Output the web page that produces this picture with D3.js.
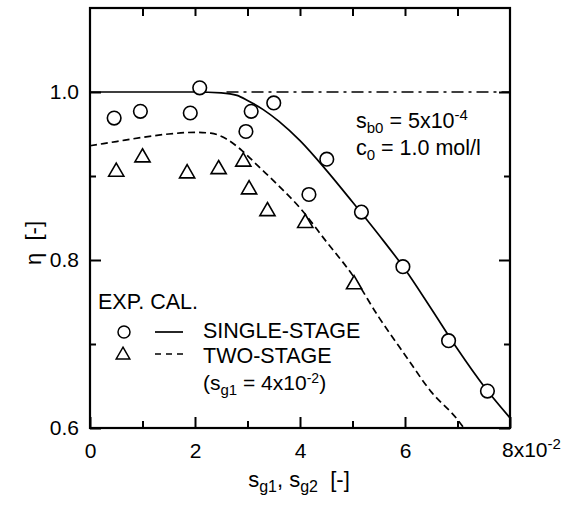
<!DOCTYPE html>
<html>
<head>
<meta charset="utf-8">
<script src="https://cdn.jsdelivr.net/npm/d3@7"></script>
<style>
body { margin: 0; background: #fff; }
text { font-family: "Liberation Sans", Arial, sans-serif; fill: #000; }
</style>
</head>
<body>
<svg id="chart" width="563" height="511"></svg>
<script>

var expSingleX = [0.46, 0.96, 1.91, 2.09, 2.97, 3.07, 3.50, 4.17, 4.51, 5.17, 5.96, 6.83, 7.57];
var expSingleY = [0.969, 0.977, 0.975, 1.005, 0.953, 0.977, 0.987, 0.878, 0.920, 0.857, 0.792, 0.704, 0.644];
var expTwoX = [0.50, 1.00, 1.85, 2.45, 2.92, 3.03, 3.38, 4.10, 5.03];
var expTwoY = [0.905, 0.922, 0.903, 0.908, 0.917, 0.884, 0.858, 0.844, 0.771];

// calculated curves
var calSingleX = [0, 1, 2, 2.5, 2.8, 3.0, 3.3, 3.6, 4.0, 4.5, 5.0, 5.5, 6.0, 6.5, 7.0, 7.5, 8.0];
var calSingleY = [1.0, 1.0, 1.0, 0.999, 0.996, 0.99, 0.979, 0.965, 0.942, 0.907, 0.869, 0.830, 0.789, 0.742, 0.694, 0.650, 0.612];
var calTwoX = [0, 0.5, 1, 1.5, 2, 2.3, 2.6, 2.9, 3.2, 3.6, 4.0, 4.5, 5.0, 5.5, 6.0, 6.5, 7.0, 7.12];
var calTwoY = [0.936, 0.941, 0.946, 0.950, 0.952, 0.951, 0.944, 0.930, 0.912, 0.888, 0.862, 0.822, 0.782, 0.732, 0.687, 0.643, 0.61, 0.6];

// eta = 1 reference line
var refX = [2.6, 8];
var refY = [1.0, 1.0];

// ticks
var xMajor = [0, 2, 4, 6, 8];
var xMinor = [1, 3, 5, 7];
var yMajor = [0.6, 0.8, 1.0];
var yMinor = [0.7, 0.9];

var margin = {top: 8, right: 53, bottom: 83, left: 90};
var width = 563 - margin.left - margin.right;
var height = 511 - margin.top - margin.bottom;

var svg = d3.select("#chart");
var chart = svg.append("g")
    .attr("transform", "translate(" + margin.left + "," + margin.top + ")");

var x = d3.scaleLinear().domain([0, 8]).range([0, width]);
var y = d3.scaleLinear().domain([0.6, 1.1]).range([height, 0]);

function zip(xs, ys) { return xs.map(function(d, i) { return [d, ys[i]]; }); }

// axes (ticks point inward)
function styleAxis(g) {
    g.select(".domain").remove();
    g.selectAll(".tick line").attr("stroke", "#000").attr("stroke-width", 2);
    g.selectAll(".tick text").style("font-size", "21px").attr("fill", "#000");
}

chart.append("g")
    .attr("transform", "translate(0," + height + ")")
    .call(d3.axisBottom(x).tickValues(xMajor).tickSize(-11).tickPadding(15)
        .tickFormat(function(d) { return d === 8 ? "" : d; }))
    .call(styleAxis);
chart.append("g")
    .attr("transform", "translate(0," + height + ")")
    .call(d3.axisBottom(x).tickValues(xMinor).tickSize(-7).tickFormat(""))
    .call(styleAxis);
chart.append("g")
    .call(d3.axisTop(x).tickValues(xMinor.concat([2, 4, 6])).tickSize(-8).tickFormat(""))
    .call(styleAxis);

chart.append("g")
    .call(d3.axisLeft(y).tickValues(yMajor).tickSize(-11).tickPadding(11).tickFormat(d3.format(".1f")))
    .call(styleAxis);
chart.append("g")
    .call(d3.axisLeft(y).tickValues(yMinor).tickSize(-6).tickFormat(""))
    .call(styleAxis);
chart.append("g")
    .attr("transform", "translate(" + width + ",0)")
    .call(d3.axisRight(y).tickValues(yMajor).tickSize(-11).tickFormat(""))
    .call(styleAxis);
chart.append("g")
    .attr("transform", "translate(" + width + ",0)")
    .call(d3.axisRight(y).tickValues(yMinor).tickSize(-6).tickFormat(""))
    .call(styleAxis);

// last x tick label 8x10^-2
var lbl8 = chart.append("text")
    .attr("x", x(8) - 8).attr("y", height + 29)
    .style("font-size", "21px");
lbl8.append("tspan").text("8x10");
lbl8.append("tspan").attr("dy", -8).style("font-size", "15px").text("-2");

// frame
chart.append("rect")
    .attr("width", width).attr("height", height)
    .attr("fill", "none").attr("stroke", "#000").attr("stroke-width", 2.2);

// lines
var line = d3.line()
    .x(function(d) { return x(d[0]); })
    .y(function(d) { return y(d[1]); })
    .curve(d3.curveMonotoneX);

chart.append("path")
    .datum(zip(refX, refY))
    .attr("d", line)
    .attr("fill", "none").attr("stroke", "#000").attr("stroke-width", 1.7)
    .attr("stroke-dasharray", "12,5,3,5");

chart.append("path")
    .datum(zip(calSingleX, calSingleY))
    .attr("d", line)
    .attr("fill", "none").attr("stroke", "#000").attr("stroke-width", 1.7);

chart.append("path")
    .datum(zip(calTwoX, calTwoY))
    .attr("d", line)
    .attr("fill", "none").attr("stroke", "#000").attr("stroke-width", 1.7)
    .attr("stroke-dasharray", "7,4");

// points
chart.selectAll(".circ")
    .data(zip(expSingleX, expSingleY))
    .enter().append("circle")
    .attr("class", "circ")
    .attr("cx", function(d) { return x(d[0]); })
    .attr("cy", function(d) { return y(d[1]); })
    .attr("r", 6.8)
    .attr("fill", "#fff").attr("stroke", "#000").attr("stroke-width", 1.6);

var tri = d3.symbol().type(d3.symbolTriangle).size(100);
chart.selectAll(".tri")
    .data(zip(expTwoX, expTwoY))
    .enter().append("path")
    .attr("class", "tri")
    .attr("transform", function(d) { return "translate(" + x(d[0]) + "," + y(d[1]) + ")"; })
    .attr("d", tri)
    .attr("fill", "#fff").attr("stroke", "#000").attr("stroke-width", 1.6);

// axis titles
var xt = svg.append("text")
    .attr("x", 299).attr("y", 487)
    .attr("text-anchor", "middle")
    .style("font-size", "22px");
xt.append("tspan").text("s");
xt.append("tspan").attr("dy", 5).style("font-size", "16px").text("g1");
xt.append("tspan").attr("dy", -5).text(", s");
xt.append("tspan").attr("dy", 5).style("font-size", "16px").text("g2");
xt.append("tspan").attr("dy", -5).text("\u00a0\u00a0[-]");

svg.append("text")
    .attr("transform", "translate(41,243) rotate(-90)")
    .attr("text-anchor", "middle")
    .style("font-size", "22px")
    .text("\u03b7\u00a0\u00a0[-]");

// conditions
var t1 = svg.append("text").attr("x", 356).attr("y", 128).style("font-size", "21.5px");
t1.append("tspan").text("s");
t1.append("tspan").attr("dy", 5).style("font-size", "15px").text("b0");
t1.append("tspan").attr("dy", -5).text(" = 5x10");
t1.append("tspan").attr("dy", -8).style("font-size", "15px").text("-4");

var t2 = svg.append("text").attr("x", 356).attr("y", 155).style("font-size", "21.5px");
t2.append("tspan").text("c");
t2.append("tspan").attr("dy", 5).style("font-size", "15px").text("0");
t2.append("tspan").attr("dy", -5).text(" = 1.0 mol/l");

// legend
var leg = svg.append("g");
leg.append("text").attr("x", 98).attr("y", 309).style("font-size", "21.5px").text("EXP. CAL.");
leg.append("circle").attr("cx", 124).attr("cy", 332).attr("r", 6)
    .attr("fill", "#fff").attr("stroke", "#000").attr("stroke-width", 1.5);
leg.append("line").attr("x1", 155).attr("x2", 183).attr("y1", 332).attr("y2", 332)
    .attr("stroke", "#000").attr("stroke-width", 1.7);
leg.append("text").attr("x", 203).attr("y", 338).style("font-size", "21.5px").text("SINGLE-STAGE");

leg.append("path").attr("transform", "translate(123,355)")
    .attr("d", d3.symbol().type(d3.symbolTriangle).size(80))
    .attr("fill", "#fff").attr("stroke", "#000").attr("stroke-width", 1.5);
leg.append("line").attr("x1", 155).attr("x2", 183).attr("y1", 354).attr("y2", 354)
    .attr("stroke", "#000").attr("stroke-width", 1.7).attr("stroke-dasharray", "6,5");
leg.append("text").attr("x", 203).attr("y", 363).style("font-size", "21.5px").text("TWO-STAGE");

var t3 = leg.append("text").attr("x", 203).attr("y", 390).style("font-size", "21px");
t3.append("tspan").text("(s");
t3.append("tspan").attr("dy", 5).style("font-size", "15px").text("g1");
t3.append("tspan").attr("dy", -5).text(" = 4x10");
t3.append("tspan").attr("dy", -7).style("font-size", "14px").text("-2");
t3.append("tspan").attr("dy", 7).text(")");

</script>
</body>
</html>
